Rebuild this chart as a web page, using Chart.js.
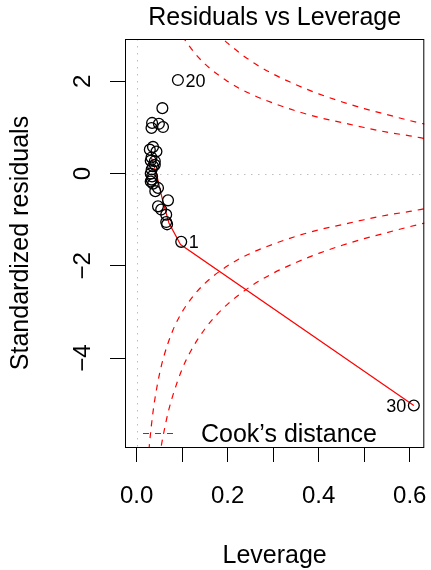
<!DOCTYPE html>
<html>
<head>
<meta charset="utf-8">
<script src="https://cdn.jsdelivr.net/npm/chart.js@4/dist/chart.umd.min.js"></script>
<style>
html,body{margin:0;padding:0;background:#fff;}
canvas{display:block;}
</style>
</head>
<body>
<canvas id="c" width="431" height="570"></canvas>
<script>
// ---- data ----
const leverage = [0.098, 0.0566, 0.034, 0.0327, 0.049, 0.058, 0.036, 0.0436, 0.0327, 0.031,
                  0.040, 0.036, 0.031, 0.034, 0.031, 0.036, 0.041, 0.069, 0.047, 0.0907,
                  0.054, 0.065, 0.065, 0.067, 0.029, 0.033, 0.047, 0.033, 0.040, 0.609];
const stdResid = [-1.48, 1.42, 1.10, 0.99, 1.08, 1.01, 0.58, 0.48, 0.35, 0.28,
                  0.27, 0.16, 0.00, -0.06, -0.17, -0.22, -0.38, -0.58, -0.71, 2.03,
                  -0.78, -0.89, -1.05, -1.10, 0.52, 0.09, -0.31, -0.13, 0.19, -5.03];
const pointIds = ['1','','','','','','','','','','','','','','','','','','','20',
                  '','','','','','','','','','30'];
const labelSide = {'1':'right','20':'right','30':'left'};

const smoothX = [0.0327, 0.0436, 0.0566, 0.071, 0.0965, 0.609];
const smoothY = [0.34, 0.0, -0.56, -1.07, -1.54, -5.03];

// Cook's distance contour 0.5
const cook05H = [0.027, 0.03, 0.035, 0.04, 0.05, 0.06, 0.08, 0.10, 0.12, 0.15, 0.20, 0.25, 0.30, 0.35, 0.40, 0.45, 0.50, 0.55, 0.60, 0.634];
const cook05Up = [6.00, 5.69, 5.25, 4.90, 4.36, 3.96, 3.39, 3.00, 2.71, 2.38, 2.00, 1.73, 1.53, 1.36, 1.22, 1.11, 1.00, 0.90, 0.82, 0.76];
const cook05Lo = [-6.00, -5.69, -5.25, -4.90, -4.36, -3.96, -3.39, -3.00, -2.71, -2.38, -2.00, -1.73, -1.53, -1.36, -1.22, -1.11, -1.00, -0.90, -0.82, -0.76];
// Cook's distance contour 1
const cook1H = [0.05, 0.055, 0.06, 0.07, 0.08, 0.10, 0.12, 0.15, 0.18, 0.20, 0.25, 0.30, 0.35, 0.40, 0.45, 0.50, 0.55, 0.60, 0.634];
const cook1Up = [6.16, 5.86, 5.60, 5.15, 4.80, 4.24, 3.83, 3.37, 3.02, 2.83, 2.45, 2.16, 1.93, 1.73, 1.56, 1.41, 1.28, 1.15, 1.07];
const cook1Lo = [-6.16, -5.86, -5.60, -5.15, -4.80, -4.24, -3.83, -3.37, -3.02, -2.83, -2.45, -2.16, -1.93, -1.73, -1.56, -1.41, -1.28, -1.15, -1.07];

const xTickValues = [0, 0.1, 0.2, 0.3, 0.4, 0.5, 0.6];
const xTickLabels = ['0.0', '', '0.2', '', '0.4', '', '0.6'];
const yTickValues = [-4, -2, 0, 2];
const yTickLabels = ['\u22124', '\u22122', '0', '2'];
const xRange = [-0.0255, 0.632];
const yRange = [-5.93, 2.92];

const titleText = 'Residuals vs Leverage';
const xTitle = 'Leverage';
const yTitle = 'Standardized residuals';
const legendText = 'Cook\u2019s distance';

// ---- build ----
const FONT = '"Liberation Sans", Arial, Helvetica, sans-serif';
const toXY = (xs, ys) => xs.map((x, i) => ({x: x, y: ys[i]}));
const RED = '#FF0000';
const DASH = [6, 6];

function curve(xs, ys) {
  return {type: 'line', data: toXY(xs, ys), borderColor: RED, borderWidth: 1.2,
          borderDash: DASH, pointRadius: 0, fill: false, tension: 0.4,
          cubicInterpolationMode: 'monotone', order: 3};
}

const decor = {
  id: 'decor',
  beforeDatasetsDraw(chart) {
    const {ctx, chartArea: a, scales: {x, y}} = chart;
    ctx.save();
    ctx.strokeStyle = '#BEBEBE';
    ctx.lineWidth = 1;
    ctx.setLineDash([1.5, 5.5]);
    const y0 = Math.round(y.getPixelForValue(0)) + 0.5;
    const x0 = Math.round(x.getPixelForValue(0)) + 0.5;
    ctx.beginPath(); ctx.moveTo(a.left, y0); ctx.lineTo(a.right, y0); ctx.stroke();
    ctx.beginPath(); ctx.moveTo(x0, a.top); ctx.lineTo(x0, a.bottom); ctx.stroke();
    ctx.restore();
  },
  afterDraw(chart) {
    const {ctx, chartArea: a, scales: {x, y}} = chart;
    ctx.save();
    // box
    ctx.strokeStyle = '#000'; ctx.lineWidth = 1; ctx.setLineDash([]);
    ctx.strokeRect(a.left + 0.5, a.top + 0.5, a.right - a.left - 1, a.bottom - a.top);
    ctx.fillStyle = '#000';
    // title
    ctx.font = '25px ' + FONT;
    ctx.textAlign = 'center'; ctx.textBaseline = 'alphabetic';
    ctx.fillText(titleText, (a.left + a.right) / 2, 25);
    // x tick labels
    ctx.font = '24px ' + FONT;
    xTickValues.forEach((v, i) => {
      if (xTickLabels[i]) ctx.fillText(xTickLabels[i], x.getPixelForValue(v), 503);
    });
    // y tick labels (rotated)
    yTickValues.forEach((v, i) => {
      ctx.save();
      ctx.translate(90, y.getPixelForValue(v));
      ctx.rotate(-Math.PI / 2);
      ctx.fillText(yTickLabels[i], 0, 0);
      ctx.restore();
    });
    // x title
    ctx.font = '25px ' + FONT;
    ctx.fillText(xTitle, (a.left + a.right) / 2, 563);
    // y title
    ctx.save();
    ctx.translate(28, (a.top + a.bottom) / 2);
    ctx.rotate(-Math.PI / 2);
    ctx.fillText(yTitle, 0, 0);
    ctx.restore();
    // point labels
    ctx.font = '18px ' + FONT;
    pointIds.forEach((id, i) => {
      if (!id) return;
      const px = x.getPixelForValue(leverage[i]);
      const py = y.getPixelForValue(stdResid[i]);
      if (labelSide[id] === 'left') { ctx.textAlign = 'right'; ctx.fillText(id, px - 7.5, py + 6.5); }
      else { ctx.textAlign = 'left'; ctx.fillText(id, px + 7.5, py + 6.5); }
    });
    // legend
    ctx.strokeStyle = RED; ctx.lineWidth = 1.2; ctx.setLineDash(DASH);
    ctx.beginPath(); ctx.moveTo(143, 433.5); ctx.lineTo(176, 433.5); ctx.stroke();
    ctx.setLineDash([]);
    ctx.fillStyle = '#000'; ctx.textAlign = 'left'; ctx.font = '25px ' + FONT;
    ctx.fillText(legendText, 201, 442);
    ctx.restore();
  }
};

new Chart(document.getElementById('c'), {
  type: 'scatter',
  data: {
    datasets: [
      {type: 'scatter', data: toXY(leverage, stdResid), pointStyle: 'circle', pointRadius: 5.4,
       pointHoverRadius: 5.4, borderColor: '#000', backgroundColor: 'rgba(0,0,0,0)',
       pointBorderWidth: 1.3, borderWidth: 1.3, order: 1},
      {type: 'line', data: toXY(smoothX, smoothY), borderColor: RED, borderWidth: 1.2,
       pointRadius: 0, fill: false, tension: 0, order: 2},
      curve(cook05H, cook05Up), curve(cook05H, cook05Lo),
      curve(cook1H, cook1Up), curve(cook1H, cook1Lo)
    ]
  },
  options: {
    responsive: false, animation: false, devicePixelRatio: 1,
    layout: {padding: {left: 0, right: 4, top: 39, bottom: 0}},
    plugins: {legend: {display: false}, tooltip: {enabled: false}, title: {display: false}},
    scales: {
      x: {type: 'linear', min: xRange[0], max: xRange[1],
          afterBuildTicks: s => { s.ticks = xTickValues.map(v => ({value: v})); },
          afterFit: s => { s.height = 123; },
          ticks: {display: false},
          border: {display: false},
          grid: {drawOnChartArea: false, drawTicks: true, tickLength: 15, color: '#000', lineWidth: 1}},
      y: {type: 'linear', min: yRange[0], max: yRange[1],
          afterBuildTicks: s => { s.ticks = yTickValues.map(v => ({value: v})); },
          afterFit: s => { s.width = 125; },
          ticks: {display: false},
          border: {display: false},
          grid: {drawOnChartArea: false, drawTicks: true, tickLength: 15, color: '#000', lineWidth: 1}}
    }
  },
  plugins: [decor]
});
</script>
</body>
</html>
